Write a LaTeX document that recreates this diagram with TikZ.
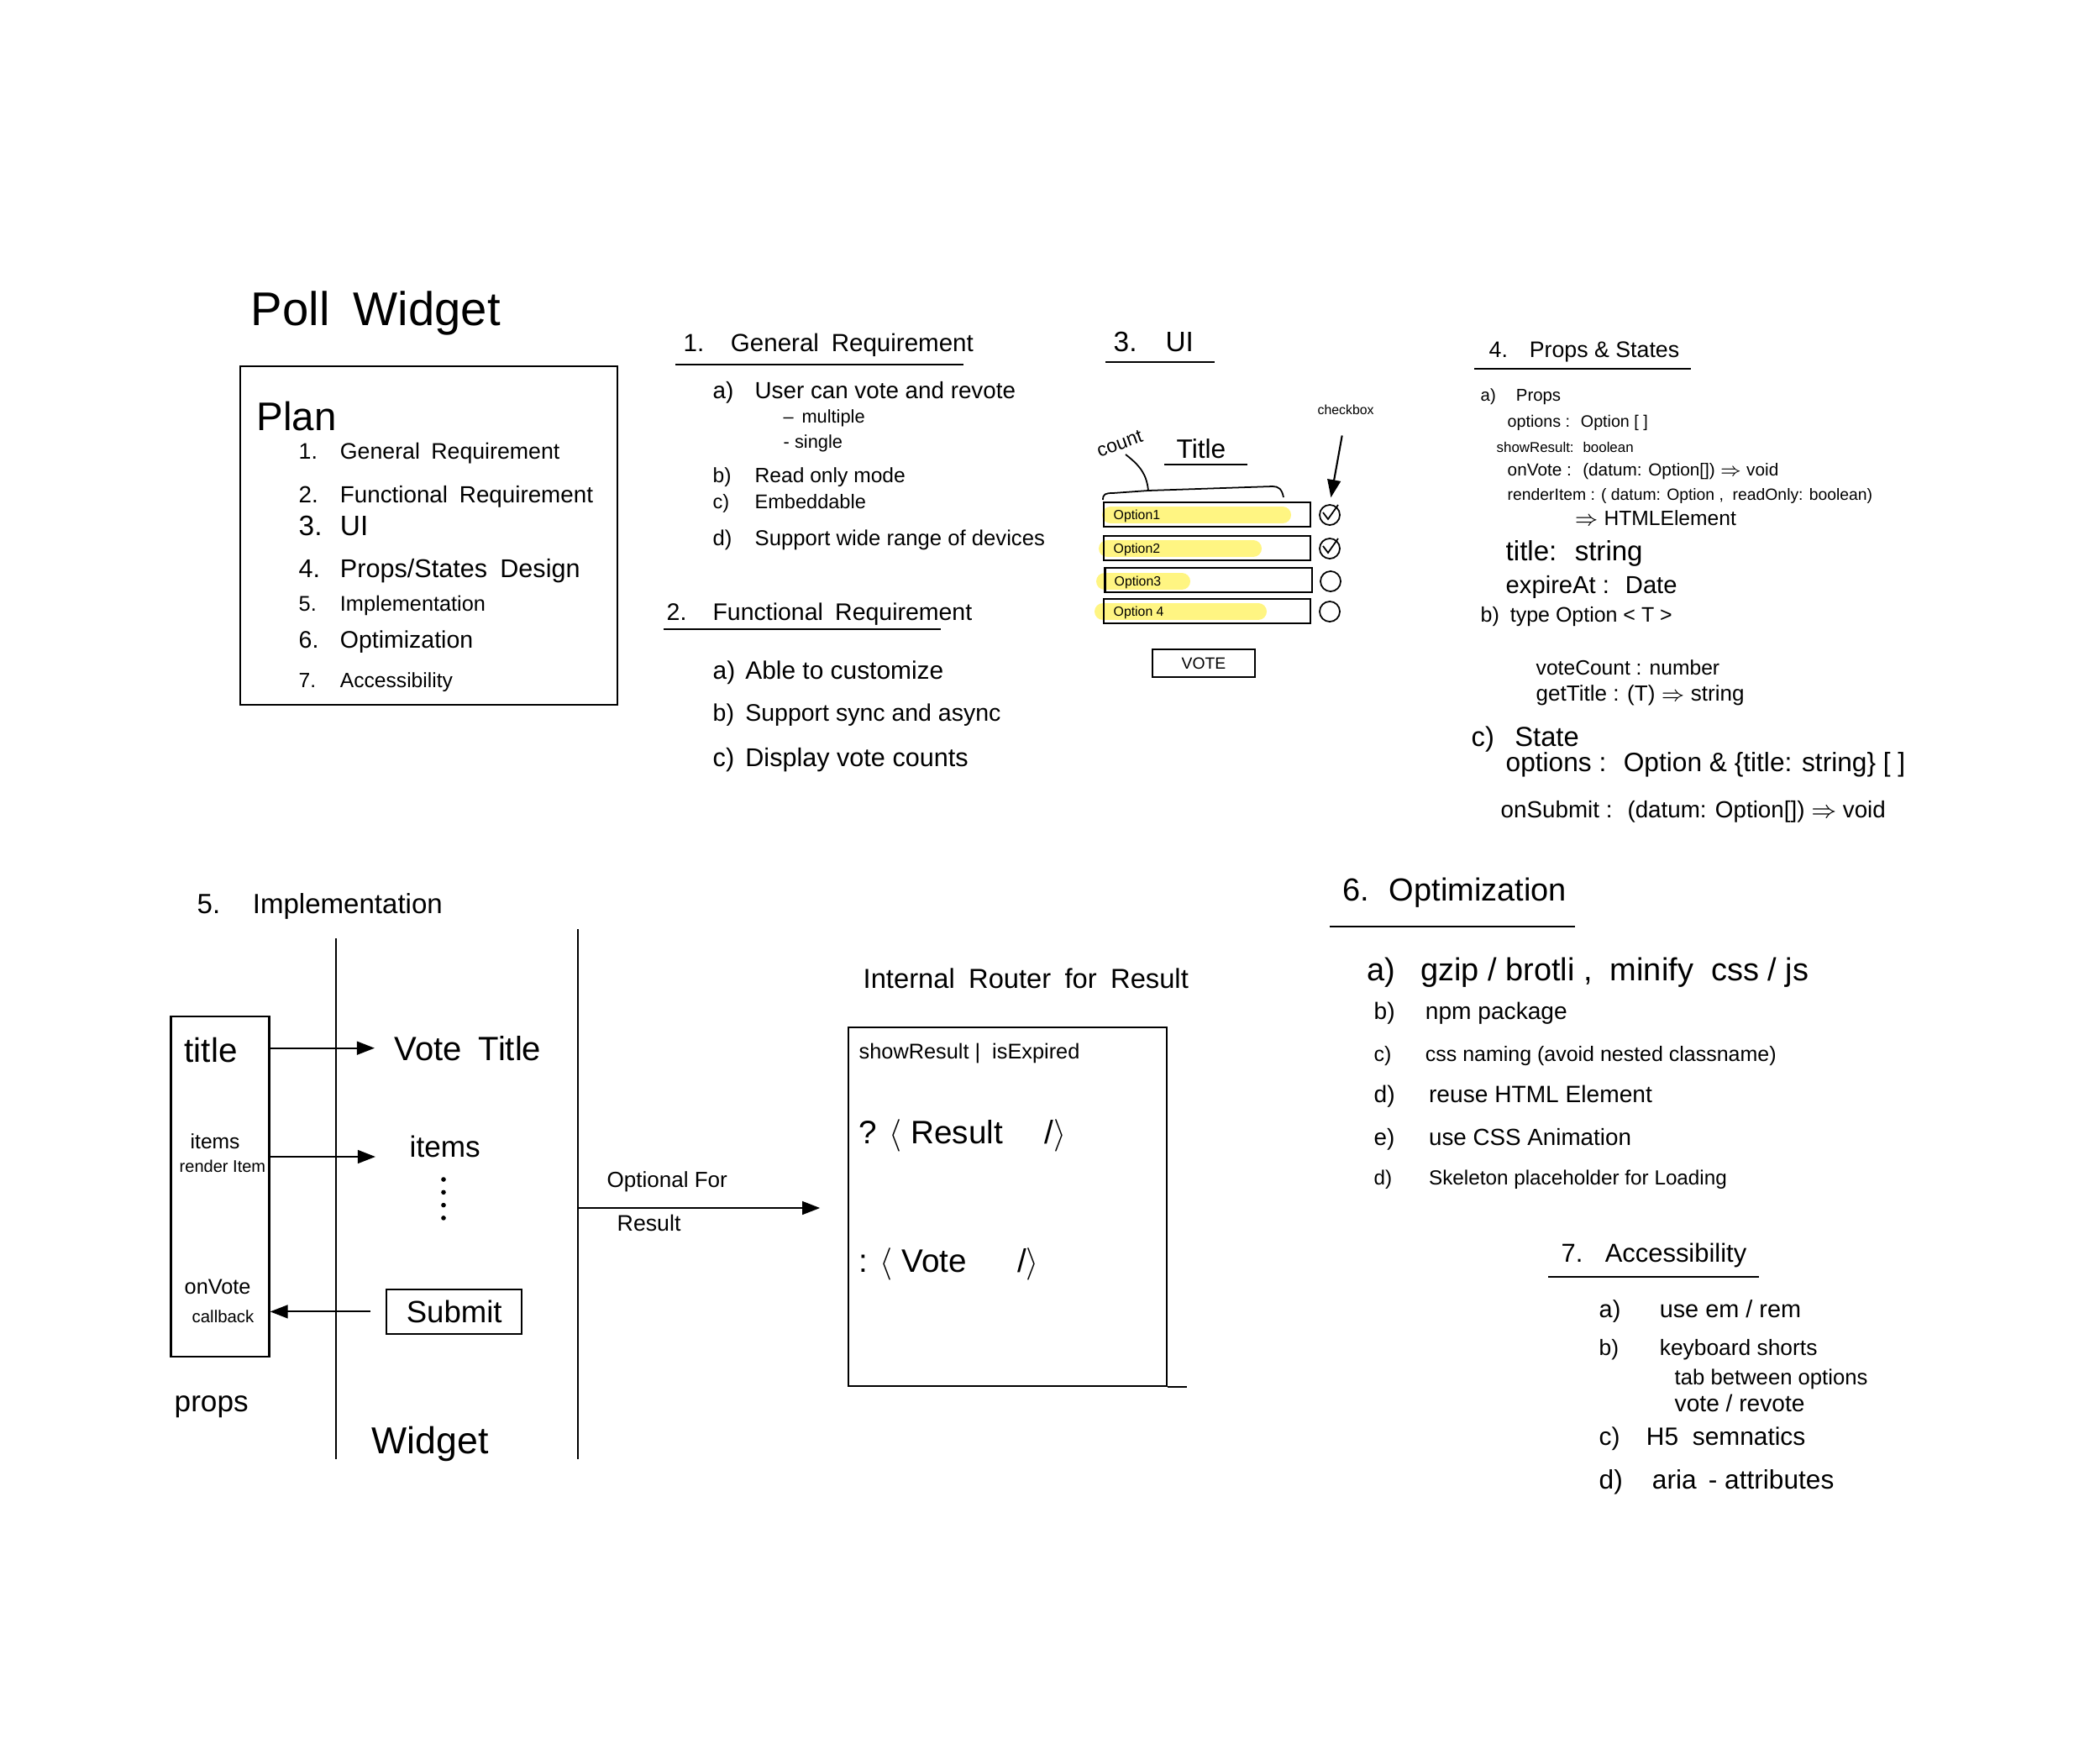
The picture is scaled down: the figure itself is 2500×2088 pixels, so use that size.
\documentclass[tikz,border=0pt]{standalone}
\usepackage{fontspec}
\setmainfont{Liberation Sans}
\usetikzlibrary{arrows.meta}
\newcommand{\fsz}[1]{\fontsize{#1}{#1}\selectfont}
\definecolor{marker}{RGB}{255,245,130}

\begin{document}
\begin{tikzpicture}[x=0.01cm,y=-0.01cm,
    txt/.style={anchor=base west,inner sep=0pt},
    arr/.style={-{Triangle[length=6pt,width=4.5pt]},line width=0.6pt},
    uline/.style={line width=0.6pt},
    bar/.style={draw,line width=0.6pt,minimum width=2.46cm,minimum height=0.29cm,inner sep=0pt},
    hl/.style={marker,line width=0.2cm,line cap=round},
    tick/.style={draw,circle,line width=0.5pt,minimum size=0.24cm,inner sep=0pt}]

    \fill[white] (0,0) rectangle (2500,2088);

    % title and plan
    \node[txt,font=\fsz{16}] (poll) at (298,387) {Poll\enspace Widget};
    \draw[uline] (286,436) rectangle (735,839);
    \node[txt,font=\fsz{13.5}] (plan) at (305,512) {Plan};
    \node[txt,font=\fsz{7.6}] (p1) at (355,546) {\makebox[14pt][l]{1.}General\enspace Requirement};
    \node[txt,font=\fsz{7.9}] (p2) at (355,598) {\makebox[14pt][l]{2.}Functional\enspace Requirement};
    \node[txt,font=\fsz{9.5}] (p3) at (355,637) {\makebox[14pt][l]{3.}UI};
    \node[txt,font=\fsz{8.7}] (p4) at (355,687) {\makebox[14pt][l]{4.}Props/States\enspace Design};
    \node[txt,font=\fsz{7.2}] (p5) at (355,727) {\makebox[14pt][l]{5.}Implementation};
    \node[txt,font=\fsz{8.1}] (p6) at (355,771) {\makebox[14pt][l]{6.}Optimization};
    \node[txt,font=\fsz{7}] (p7) at (355,818) {\makebox[14pt][l]{7.}Accessibility};

    % 1. general requirement
    \node[txt,font=\fsz{8.4}] (h1) at (813,418) {\makebox[16pt][l]{1.}General\enspace Requirement};
    \draw[uline] (804,434) -- (1147,434);
    \node[txt,font=\fsz{7.9}] (g1) at (848,474) {\makebox[14.2pt][l]{a)}User can vote and revote};
    \node[txt,font=\fsz{6.2}] (g1m) at (932,503) {--\, multiple};
    \node[txt,font=\fsz{6.2}] (g1s) at (932,533) {- single};
    \node[txt,font=\fsz{7}] (g2) at (848,574) {\makebox[14.2pt][l]{b)}Read only mode};
    \node[txt,font=\fsz{6.7}] (g3) at (848,605) {\makebox[14.2pt][l]{c)}Embeddable};
    \node[txt,font=\fsz{7.3}] (g4) at (848,649) {\makebox[14.2pt][l]{d)}Support wide range of devices};

    % 2. functional requirement
    \node[txt,font=\fsz{8.1}] (h2) at (793,738) {\makebox[15.6pt][l]{2.}Functional\enspace Requirement};
    \draw[uline] (790,749) -- (1120,749);
    \node[txt,font=\fsz{8.5}] (f1) at (848,808) {\makebox[11pt][l]{a)}Able to customize};
    \node[txt,font=\fsz{8.1}] (f2) at (848,858) {\makebox[11pt][l]{b)}Support sync and async};
    \node[txt,font=\fsz{8.7}] (f3) at (848,912) {\makebox[11pt][l]{c)}Display vote counts};

    % 3. ui
    \node[txt,font=\fsz{9.5}] (h3) at (1325,418) {\makebox[17.6pt][l]{3.}UI};
    \draw[uline] (1316,431) -- (1446,431);
    \node[font=\fsz{6.5},rotate=20,inner sep=0pt] (cnt) at (1333,528) {count};
    \node[txt,font=\fsz{9}] (ttl) at (1400,545) {Title};
    \draw[uline] (1386,553) -- (1485,553);
    \node[txt,font=\fsz{4.5}] (cbox) at (1568,493) {checkbox};
    \draw[line width=0.5pt] (1313,595) .. controls (1313,588) and (1316,587) .. (1325,587) -- (1367,584)
        -- (1515,579) .. controls (1522,579) and (1526,582) .. (1528,592);
    \draw[line width=0.5pt] (1367,584) .. controls (1365,565) and (1358,555) .. (1340,541);
    \draw[hl] (1322,613) -- (1527,613);
    \draw[hl] (1318,653) -- (1492,653);
    \draw[hl] (1315,692) -- (1407,692);
    \draw[hl] (1313,728) -- (1498,728);
    \node[bar] (o1) at (1437,612.5) {};
    \node[bar] (o2) at (1437,652.5) {};
    \node[bar] (o3) at (1438.5,690.5) {};
    \node[bar] (o4) at (1437,727.5) {};
    \node[txt,font=\fsz{4.5}] (t1) at (1325,618) {Option1};
    \node[txt,font=\fsz{4.5}] (t2) at (1325,658) {Option2};
    \node[txt,font=\fsz{4.5}] (t3) at (1326,697) {Option3};
    \node[txt,font=\fsz{4.5}] (t4) at (1325,733) {Option 4};
    \node[tick] (c1) at (1583,613) {};
    \node[tick] (c2) at (1583,653) {};
    \node[tick] (c3) at (1584,692) {};
    \node[tick] (c4) at (1583,728) {};
    \draw[line width=0.5pt] (c1) ++(-8,-3) -- ++(6,8) -- ++(12,-17);
    \draw[line width=0.5pt] (c2) ++(-8,-3) -- ++(6,8) -- ++(12,-17);
    \draw[arr,shorten <=0.25cm,shorten >=0.08cm] (cbox.south) -- (c1.north);
    \node[draw,line width=0.6pt,minimum width=1.22cm,minimum height=0.33cm,inner sep=0pt,font=\fsz{5.5}] (vote) at (1433,789.5) {VOTE};

    % 4. props and states
    \node[txt,font=\fsz{7.6}] (h4) at (1772,425) {\makebox[13.7pt][l]{4.}Props \& States};
    \draw[uline] (1755,439) -- (2013,439);
    \node[txt,font=\fsz{5.8}] (s1) at (1762,477) {\makebox[12pt][l]{a)}Props};
    \node[txt,font=\fsz{5.6}] (s2) at (1794,508) {options : \ Option [ ]};
    \node[txt,font=\fsz{4.8}] (s3) at (1781,538) {showResult: \ boolean};
    \node[txt,font=\fsz{5.9}] (s4) at (1794,566) {onVote : \ (datum: Option[]) $\Rightarrow$ void};
    \node[txt,font=\fsz{5.5}] (s5) at (1794,595) {renderItem : ( datum: Option , \ readOnly: boolean)};
    \node[txt,font=\fsz{7}] (s6) at (1874,625) {$\Rightarrow$ HTMLElement};
    \node[txt,font=\fsz{9.4}] (s7) at (1792,667) {title: \ string};
    \node[txt,font=\fsz{8.3}] (s8) at (1792,706) {expireAt : \ Date};
    \node[txt,font=\fsz{7.1}] (s9) at (1762,740) {\makebox[10pt][l]{b)}type Option < T >};
    \node[txt,font=\fsz{7}] (s10) at (1828,803) {voteCount : number};
    \node[txt,font=\fsz{7.4}] (s11) at (1828,834) {getTitle : (T) $\Rightarrow$ string};
    \node[txt,font=\fsz{9.3}] (s12) at (1751,888) {\makebox[14.7pt][l]{c)}State};
    \node[txt,font=\fsz{9}] (s13) at (1792,918) {options : \ Option \& \{title: string\} [ ]};
    \node[txt,font=\fsz{7.9}] (s14) at (1786,973) {onSubmit : \ (datum: Option[]) $\Rightarrow$ void};

    % 5. implementation
    \node[txt,font=\fsz{9.4}] (h5) at (234,1087) {\makebox[18.8pt][l]{5.}Implementation};
    \draw[uline] (400,1117) -- (400,1737);
    \draw[uline] (688,1106) -- (688,1737);
    \node[draw,line width=0.6pt,minimum width=1.17cm,minimum height=4.04cm,inner sep=0pt] (props) at (262,1412.5) {};
    \node[txt,font=\fsz{11.5}] (ptitle) at (219,1264) {title};
    \node[txt,font=\fsz{7}] (pitems) at (226,1367) {items};
    \node[txt,font=\fsz{5.7}] (prender) at (213,1395) {render Item};
    \node[txt,font=\fsz{7.2}] (pvote) at (219,1540) {onVote};
    \node[txt,font=\fsz{5.8}] (pcb) at (228,1574) {callback};
    \node[txt,font=\fsz{10}] (plbl) at (207,1680) {props};
    \node[txt,font=\fsz{11.4}] (vtitle) at (469,1262) {Vote\enspace Title};
    \node[txt,font=\fsz{10}] (witems) at (487,1377) {items};
    \foreach \k in {0,...,3}
        \fill (528,{1404+15.3*\k}) circle (0.8pt);
    \node[draw,line width=0.6pt,minimum width=1.61cm,minimum height=0.53cm,inner sep=0pt,font=\fsz{10.4}] (submit) at (540.7,1561.4) {Submit};
    \node[txt,font=\fsz{12.7}] (wlbl) at (442,1730) {Widget};
    \draw[arr,shorten >=0.23cm] (props.east |- vtitle.west) -- (vtitle.west);
    \draw[arr,shorten >=0.4cm] (props.east |- witems.base west) -- (witems.base west);
    \draw[arr,shorten <=0.18cm] (submit.west) -- (submit.west -| props.east);

    % router
    \node[txt,font=\fsz{7.4}] (opt) at (722,1413) {Optional For};
    \node[txt,font=\fsz{7.6}] (optr) at (734,1465) {Result};
    \node[txt,font=\fsz{9.3}] (rhead) at (1027,1176) {Internal\enspace Router\enspace for\enspace Result};
    \node[draw,line width=0.6pt,minimum width=3.785cm,minimum height=4.26cm,inner sep=0pt] (router) at (1199.6,1436.5) {};
    \draw[uline] (router.south east) -- ++(23,0);
    \node[txt,font=\fsz{7.2}] (r1) at (1022,1260) {showResult | \ isExpired};
    \node[txt,font=\fsz{11}] (r2) at (1022,1361) {? $\langle$ Result \quad /$\rangle$};
    \node[txt,font=\fsz{11}] (r3) at (1022,1514) {: $\langle$ Vote \quad\ /$\rangle$};
    \coordinate (lane) at (688,1438);
    \draw[arr,shorten >=0.33cm] (lane) -- (lane -| router.west);

    % 6. optimization
    \node[txt,font=\fsz{10.8}] (h6) at (1598,1072) {\makebox[15.7pt][l]{6.}Optimization};
    \draw[uline] (1583,1103) -- (1875,1103);
    \node[txt,font=\fsz{10.8}] (z1) at (1627,1167) {\makebox[18pt][l]{a)}gzip / brotli , \ minify \ css / js};
    \node[txt,font=\fsz{8}] (z2) at (1635,1213) {\makebox[17.4pt][l]{b)}npm package};
    \node[txt,font=\fsz{7.1}] (z3) at (1635,1263) {\makebox[17.4pt][l]{c)}css naming (avoid nested classname)};
    \node[txt,font=\fsz{8}] (z4) at (1635,1312) {\makebox[18.6pt][l]{d)}reuse HTML Element};
    \node[txt,font=\fsz{7.9}] (z5) at (1635,1363) {\makebox[18.6pt][l]{e)}use CSS Animation};
    \node[txt,font=\fsz{6.9}] (z6) at (1635,1410) {\makebox[18.6pt][l]{d)}Skeleton placeholder for Loading};

    % 7. accessibility
    \node[txt,font=\fsz{8.8}] (h7) at (1858,1502) {\makebox[14.8pt][l]{7.}Accessibility};
    \draw[uline] (1843,1520) -- (2094,1520);
    \node[txt,font=\fsz{8.2}] (x1) at (1903,1568) {\makebox[20.5pt][l]{a)}use em / rem};
    \node[txt,font=\fsz{7.5}] (x2) at (1903,1613) {\makebox[20.5pt][l]{b)}keyboard shorts};
    \node[txt,font=\fsz{7.3}] (x2a) at (1993,1648) {tab between options};
    \node[txt,font=\fsz{8}] (x2b) at (1993,1680) {vote / revote};
    \node[txt,font=\fsz{8.5}] (x3) at (1903,1720) {\makebox[16pt][l]{c)}H5 \ semnatics};
    \node[txt,font=\fsz{9}] (x4) at (1903,1772) {\makebox[18pt][l]{d)}aria \,- attributes};

\end{tikzpicture}
\end{document}
